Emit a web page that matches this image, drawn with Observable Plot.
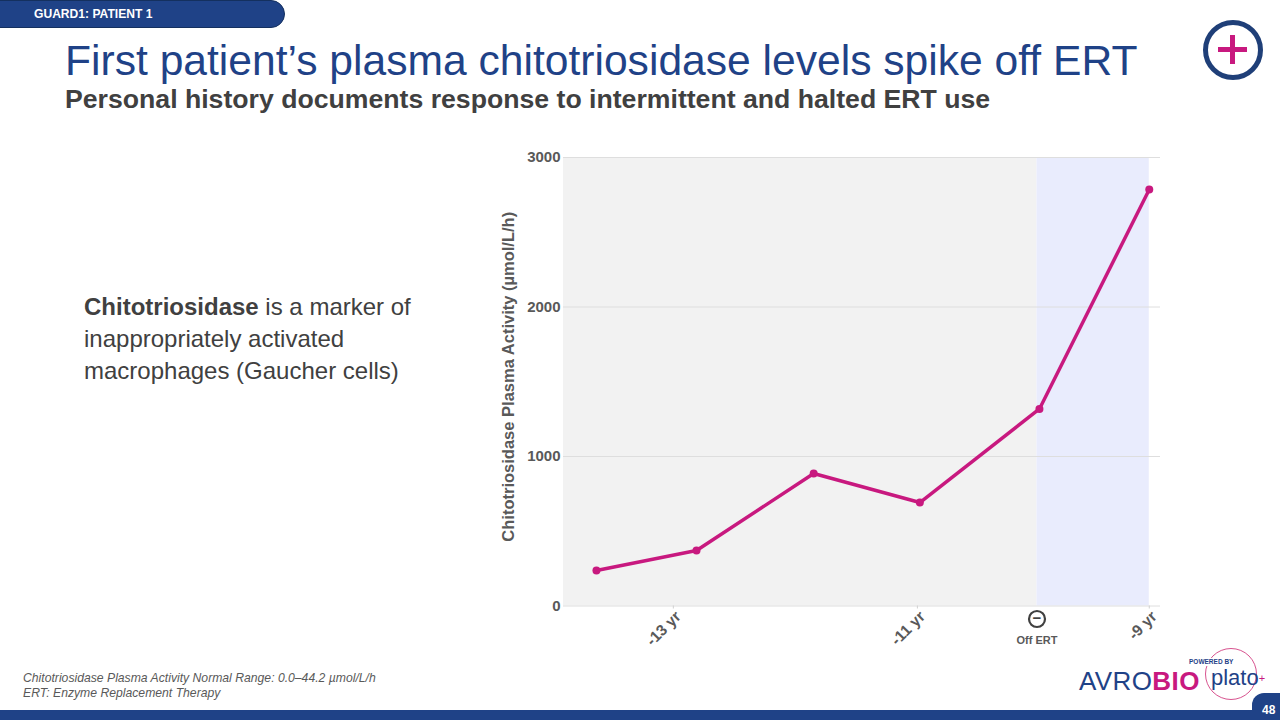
<!DOCTYPE html>
<html><head><meta charset="utf-8">
<script src="https://cdn.jsdelivr.net/npm/d3@7"></script>
<script src="https://cdn.jsdelivr.net/npm/@observablehq/plot@0.6"></script>
<style>
html,body{margin:0;padding:0;background:#fff;}
body{width:1280px;height:720px;position:relative;overflow:hidden;font-family:"Liberation Sans",Arial,sans-serif;}
.a{position:absolute;white-space:nowrap;}
#chart{position:absolute;left:480px;top:130px;}
#chart svg{display:block;}
</style></head><body>
<div class="a" style="left:-20px;top:0;width:305px;height:28px;background:#1f4287;border:1px solid #14305f;border-radius:0 14px 14px 0;box-sizing:border-box;"></div>
<div class="a" style="left:34px;top:7px;font-size:12.1px;font-weight:bold;color:#fff;line-height:15px;">GUARD1: PATIENT 1</div>
<div class="a" id="title" style="left:65px;top:35px;font-size:42.6px;line-height:50px;color:#1f4287;">First patient’s plasma chitotriosidase levels spike off ERT</div>
<div class="a" id="sub" style="left:65px;top:84px;font-size:26.65px;line-height:30px;font-weight:bold;color:#404040;">Personal history documents response to intermittent and halted ERT use</div>
<div class="a" style="left:1203px;top:20px;width:60px;height:60px;box-sizing:border-box;border:5px solid #1f3f78;border-radius:50%;"></div>
<div class="a" style="left:1218px;top:47px;width:29px;height:5px;background:#c8197f;"></div>
<div class="a" style="left:1230px;top:35px;width:5px;height:29px;background:#c8197f;"></div>
<div class="a" style="left:84px;top:291px;font-size:24px;line-height:32px;color:#404040;"><b>Chitotriosidase</b> is a marker of<br>inappropriately activated<br>macrophages (Gaucher cells)</div>
<div class="a" style="left:23px;top:671px;font-size:12.2px;line-height:15px;font-style:italic;color:#595959;">Chitotriosidase Plasma Activity Normal Range: 0.0–44.2 µmol/L/h<br>ERT: Enzyme Replacement Therapy</div>
<div class="a" style="left:1079px;top:664px;font-size:26px;line-height:34px;letter-spacing:.4px;color:#1f4287;">AVRO<span style="color:#c8197f;font-weight:bold;">BIO</span></div>
<div class="a" style="left:1205px;top:648px;width:52px;height:52px;box-sizing:border-box;border:1.5px solid #d8538f;border-radius:50%;"></div>
<div class="a" style="left:1187px;top:658px;font-size:6.5px;line-height:8px;font-weight:bold;color:#1f4287;background:#fff;padding:0 2px;">POWERED BY</div>
<div class="a" style="left:1211px;top:665px;font-size:22px;line-height:26px;color:#1f4287;">plato<span style="font-size:11px;color:#c8197f;vertical-align:3px;">+</span></div>
<div class="a" style="left:0;top:710px;width:1280px;height:10px;background:#1f4287;"></div>
<div class="a" style="left:1252px;top:693px;width:40px;height:40px;background:#1f4287;border-radius:12px 0 0 0;border:0;"></div>
<div class="a" style="left:1262px;top:703px;font-size:12px;line-height:14px;font-weight:bold;color:#fff;">48</div>
<div id="chart"></div>
<script>
const years = [-13.63, -12.81, -11.85, -10.98, -10.0, -9.1];
const activity = [237, 371, 886, 692, 1318, 2786];
const tickYears = [-13, -11, -9.1];
const tickLabels = ["-13 yr", "-11 yr", "-9 yr"];
const offErtYear = -10.02;
const onErtStart = -13.9, offErtEnd = -9.1;
const yTicks = [0, 1000, 2000, 3000];
const yTitle = "Chitotriosidase Plasma Activity (µmol/L/h)";
const points = years.map((x, i) => ({x, y: activity[i]}));
const ink = "#595959";
const plot = Plot.plot({
  width: 700, height: 530,
  marginLeft: 83, marginRight: 20, marginTop: 27, marginBottom: 54.5,
  style: {fontFamily: '"Liberation Sans",Arial,sans-serif', background: "transparent", overflow: "visible"},
  x: {type: "linear", domain: [-13.9, -9.008]},
  y: {type: "linear", domain: [0, 3000]},
  marks: [
    Plot.rect([{a: onErtStart, b: offErtYear}], {x1: "a", x2: "b", y1: () => 0, y2: () => 3000, fill: "#f2f2f2"}),
    Plot.rect([{a: offErtYear, b: offErtEnd}], {x1: "a", x2: "b", y1: () => 0, y2: () => 3000, fill: "#e9ecfd"}),
    Plot.ruleY(yTicks, {stroke: "#dedede", strokeWidth: 1}),
    Plot.axisY({ticks: yTicks, tickSize: 0, tickFormat: d => String(d), fontSize: 15, fontWeight: "bold", color: ink, tickPadding: 3, label: null}),
    Plot.text([yTitle], {frameAnchor: "left", textAnchor: "middle", rotate: -90, dx: -55, dy: -5, fontSize: 16.5, fontWeight: "bold", fill: ink, letterSpacing: "0.2px", text: d => d}),
    Plot.axisX({ticks: tickYears, tickFormat: () => "", tickSize: 3, stroke: "#d0d0d0", label: null}),
    Plot.axisX({ticks: tickYears, tickFormat: d => tickLabels[tickYears.indexOf(d)], tickSize: 0, tickRotate: -45, dx: 5,
      fontSize: 15.5, fontWeight: "bold", fill: ink, tickPadding: 8, label: null}),
    Plot.dot([offErtYear], {x: d => d, y: () => 0, dy: 13, r: 8, stroke: "#404040", strokeWidth: 2.2, fill: "none"}),
    Plot.text([offErtYear], {x: d => d, y: () => 0, dy: 12.5, text: () => "−", fontSize: 15, fontWeight: "bold", fill: "#404040"}),
    Plot.text([offErtYear], {x: d => d, y: () => 0, dy: 34, text: () => "Off ERT", fontSize: 11, fontWeight: "bold", fill: ink}),
    Plot.line(points, {x: "x", y: "y", stroke: "#c8197f", strokeWidth: 3.5, curve: "linear"}),
    Plot.dot(points, {x: "x", y: "y", r: 4, fill: "#c8197f"})
  ]
});
document.getElementById("chart").appendChild(plot);
</script>
</body></html>
